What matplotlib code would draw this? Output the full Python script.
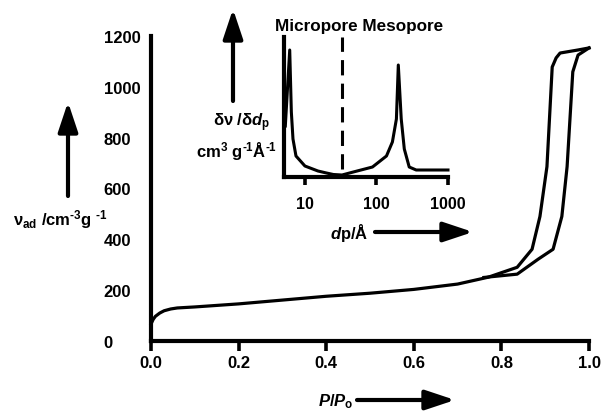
import matplotlib
matplotlib.use("Agg")
import matplotlib.pyplot as plt

# ---------------- data ----------------
# adsorption branch of the isotherm
ads_p = [0.0, 0.005, 0.01, 0.02, 0.03, 0.045, 0.06, 0.1, 0.2, 0.3, 0.4, 0.5, 0.6,
         0.7, 0.77, 0.836, 0.87, 0.888, 0.904, 0.916, 0.925, 0.934, 0.975, 1.0]
ads_v = [67, 85, 97, 110, 119, 126, 130, 134, 146, 161, 176, 188, 203,
         224, 251, 290, 361, 490, 686, 1078, 1114, 1133, 1145, 1153]
# desorption branch
des_p = [1.0, 0.975, 0.963, 0.95, 0.938, 0.918, 0.884, 0.836, 0.76]
des_v = [1153, 1125, 1059, 686, 490, 361, 322, 263, 250]

# pore size distribution (inset)
psd_d = [5.32, 6.13, 6.46, 6.81, 7.5, 10, 15.2, 20, 25, 33, 42, 88, 138, 167,
         190, 202, 222, 245, 287, 359, 1000]
psd_y = [51, 127, 65, 38, 21, 11, 6, 4, 2.5, 2, 4, 10, 21, 35,
         58, 112, 58, 28, 10, 7, 7]
boundary_d = 33.4

main_xticks = [0.0, 0.2, 0.4, 0.6, 0.8, 1.0]
main_xlabels = ["0.0", "0.2", "0.4", "0.6", "0.8", "1.0"]
main_yticks = [0, 200, 400, 600, 800, 1000, 1200]
main_ylabels = ["0", "200", "400", "600", "800", "1000", "1200"]
inset_xticks = [10, 100, 1000]
inset_xlabels = ["10", "100", "1000"]

# ---------------- style ----------------
plt.rcParams['font.family'] = ['Liberation Sans', 'DejaVu Sans']
plt.rcParams['font.weight'] = 'bold'
plt.rcParams['mathtext.fontset'] = 'custom'
plt.rcParams['mathtext.rm'] = 'Liberation Sans:bold'
plt.rcParams['mathtext.it'] = 'Liberation Sans:bold:italic'
plt.rcParams['mathtext.bf'] = 'Liberation Sans:bold'

W, H = 603, 414
fig = plt.figure(figsize=(W / 100, H / 100), dpi=100)

# main axes
ax = fig.add_axes([151 / W, 1 - 342 / H, (589 - 151) / W, (342 - 37) / H])
ax.plot(ads_p, ads_v, color='black', lw=2.3, clip_on=False, solid_joinstyle='round')
ax.plot(des_p, des_v, color='black', lw=2.3, clip_on=False, solid_joinstyle='round')
ax.set_xlim(0, 1.0)
ax.set_ylim(0, 1200)
for s in ['top', 'right']:
    ax.spines[s].set_visible(False)
for s in ['left', 'bottom']:
    ax.spines[s].set_linewidth(3)
ax.set_xticks(main_xticks)
ax.set_xticklabels(main_xlabels, fontsize=12, fontweight='bold')
ax.set_yticks(main_yticks)
ax.set_yticklabels(main_ylabels, fontsize=12, fontweight='bold')
ax.tick_params(axis='x', direction='out', length=7, width=2.6, pad=3)
ax.tick_params(axis='y', length=0, pad=34)
for lab in ax.get_yticklabels():
    lab.set_horizontalalignment('left')
ax.set_yticks([0], minor=True)
ax.tick_params(axis='y', which='minor', length=4, width=2.6)

# inset axes
ia = fig.add_axes([284 / W, 1 - 178 / H, (448 - 284) / W, (178 - 38) / H])
ia.set_xscale('log')
ia.plot(psd_d, psd_y, color='black', lw=2.2, solid_joinstyle='round', clip_on=False)
ia.plot([boundary_d, boundary_d], [8, 140], color='black', lw=2.2,
        dashes=(5, 2.7))
ia.set_xlim(5.1, 1000)
ia.set_ylim(0, 140)
for s in ['top', 'right']:
    ia.spines[s].set_visible(False)
for s in ['left', 'bottom']:
    ia.spines[s].set_linewidth(3)
ia.set_yticks([])
ia.set_xticks(inset_xticks)
ia.set_xticklabels(inset_xlabels, fontsize=11.5, fontweight='bold')
ia.xaxis.set_minor_locator(matplotlib.ticker.NullLocator())
ia.tick_params(axis='x', direction='out', length=6, width=2.6, pad=8)
ia.patch.set_alpha(0)

# texts (figure pixel coordinates, y from bottom)
def ftxt(x, y, s, **kw):
    fig.text(x / W, y / H, s, transform=fig.transFigure, **kw)

HY = "\u2010"  # short hyphen used in the superscripts
ftxt(359, H - 27, "Micropore Mesopore", fontsize=12.3, fontweight='bold',
     ha='center', va='center')
ftxt(13, H - 220, r"$\mathrm{ν}_{\mathrm{ad}}$ /cm$^{\mathrm{" + HY + r"3}}$g $^{\mathrm{" + HY + r"1}}$",
     fontsize=12, fontweight='bold', ha='left', va='center')
ftxt(270, H - 123, r"δν /δ$d_{\mathrm{p}}$", fontsize=12, fontweight='bold',
     ha='right', va='center')
ftxt(277, H - 152, r"cm$^{\mathrm{3}}$ g$^{\mathrm{" + HY + r"1}}$Å$^{\mathrm{" + HY + r"1}}$",
     fontsize=12, fontweight='bold', ha='right', va='center')
ftxt(368, H - 233, r"$d$p/Å", fontsize=12, fontweight='bold', ha='right', va='center')
ftxt(353, H - 402, r"$P/P_{\mathrm{o}}$", fontsize=12, fontweight='bold',
     ha='right', va='center')

# arrows
def farrow(x0, y0, x1, y1):
    ax.annotate("", xy=(x1, H - y1), xytext=(x0, H - y0),
                xycoords='figure pixels', textcoords='figure pixels',
                arrowprops=dict(arrowstyle='-|>,head_length=0.9,head_width=0.3',
                                lw=3, color='black', mutation_scale=20,
                                shrinkA=0, shrinkB=0),
                annotation_clip=False)

farrow(68, 197, 68, 103)
farrow(233, 102, 233, 10)
farrow(375, 233, 473, 233)
farrow(357, 401, 455, 401)

fig.savefig("out.png", dpi=100)
